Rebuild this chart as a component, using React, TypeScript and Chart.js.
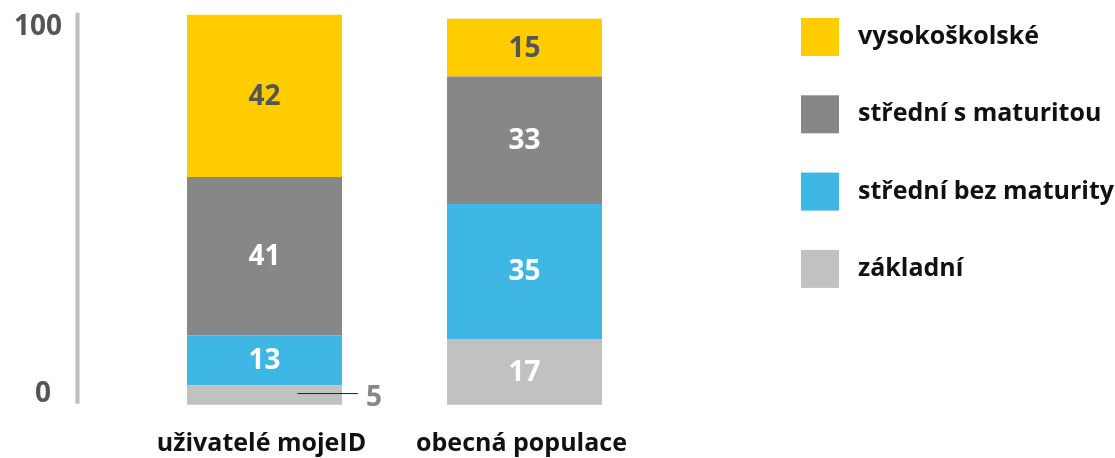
import React, { useEffect, useRef } from "react";
import { Chart, registerables } from "chart.js";

Chart.register(...registerables);

// ---- data ----
const categories = ["uživatelé mojeID", "obecná populace"];
const seriesNames = ["základní", "střední bez maturity", "střední s maturitou", "vysokoškolské"];
const zakladni = [5, 17];
const stredniBezMaturity = [13, 35];
const stredniSMaturitou = [41, 33];
const vysokoskolske = [42, 15];
const yTickValues = [0, 100];

// ---- styles ----
const seriesColors = ["#C1C1C1", "#3EB7E4", "#878787", "#FFCC00"];
const valueLabelColors = ["#FFFFFF", "#FFFFFF", "#FFFFFF", "#555555"];
const FONT = '"Open Sans", "Noto Sans", sans-serif';

const overlayPlugin = {
  id: "overlay",
  afterDatasetsDraw(chart: any) {
    const { ctx, chartArea } = chart;
    const yScale = chart.scales.y;
    const xScale = chart.scales.x;
    ctx.save();

    // vertical axis line
    const axisX = 77.5;
    ctx.strokeStyle = "#BEBEBE";
    ctx.lineWidth = 4;
    ctx.beginPath();
    ctx.moveTo(axisX, chartArea.top - 6);
    ctx.lineTo(axisX, chartArea.bottom - 1);
    ctx.stroke();

    // axis tick labels
    ctx.fillStyle = "#555555";
    ctx.font = `bold 28px ${FONT}`;
    ctx.textAlign = "center";
    yTickValues.forEach((v) => {
      const py = yScale.getPixelForValue(v);
      ctx.textBaseline = v === 0 ? "alphabetic" : "top";
      ctx.fillText(String(v), v === 0 ? 43 : 38, v === 0 ? py - 3 : py - 6);
    });

    // category labels
    ctx.fillStyle = "#111111";
    ctx.font = `bold 25px ${FONT}`;
    ctx.textAlign = "center";
    ctx.textBaseline = "alphabetic";
    categories.forEach((c, i) => {
      ctx.fillText(c, xScale.getPixelForValue(i) - 3, chartArea.bottom + 46);
    });

    // value labels
    ctx.font = `bold 28px ${FONT}`;
    chart.data.datasets.forEach((ds: any, di: number) => {
      const meta = chart.getDatasetMeta(di);
      meta.data.forEach((bar: any, i: number) => {
        const v = ds.data[i];
        const top = bar.y;
        const base = bar.base;
        const cy = (top + base) / 2;
        const h = base - top;
        if (h < 30) {
          // small segment: leader line + label outside
          const right = bar.x + bar.width / 2;
          ctx.strokeStyle = "#222222";
          ctx.lineWidth = 1;
          ctx.beginPath();
          ctx.moveTo(bar.x + 33, cy - 1.5);
          ctx.lineTo(right + 16, cy - 1.5);
          ctx.stroke();
          ctx.fillStyle = "#888888";
          ctx.textAlign = "left";
          ctx.textBaseline = "middle";
          ctx.fillText(String(v), right + 24, cy + 3);
        } else {
          ctx.fillStyle = valueLabelColors[di];
          ctx.textAlign = "center";
          ctx.textBaseline = "middle";
          ctx.fillText(String(v), bar.x, cy + 1);
        }
      });
    });

    // legend (top-most series first)
    const boxX = 801;
    const boxSize = 38;
    const startY = 18;
    const step = 77.3;
    ctx.font = `bold 25px ${FONT}`;
    ctx.textAlign = "left";
    ctx.textBaseline = "middle";
    for (let k = 0; k < seriesNames.length; k++) {
      const di = seriesNames.length - 1 - k;
      const y = startY + k * step;
      ctx.fillStyle = seriesColors[di];
      ctx.fillRect(boxX, y, boxSize, boxSize);
      ctx.fillStyle = "#111111";
      ctx.fillText(seriesNames[di], boxX + 57, y + boxSize / 2);
    }
    ctx.restore();
  },
};

export default function App() {
  const canvasRef = useRef<HTMLCanvasElement | null>(null);

  useEffect(() => {
    document.body.style.margin = "0";
    const canvas = canvasRef.current!;
    const seriesData = [zakladni, stredniBezMaturity, stredniSMaturitou, vysokoskolske];
    const chart = new Chart(canvas, {
      type: "bar",
      data: {
        labels: categories,
        datasets: seriesNames.map((name, i) => ({
          label: name,
          data: seriesData[i],
          backgroundColor: seriesColors[i],
          borderWidth: 0,
          categoryPercentage: 1,
          barPercentage: 155 / 260,
          clip: false as any,
        })),
      },
      options: {
        responsive: false,
        animation: false,
        events: [],
        layout: { padding: { left: 134.5, right: 460.5, top: 18.7, bottom: 53.3 } },
        plugins: {
          legend: { display: false },
          tooltip: { enabled: false },
        },
        scales: {
          x: {
            stacked: true,
            display: false,
          },
          y: {
            stacked: true,
            display: false,
            min: 0,
            max: 100,
          },
        },
      },
      plugins: [overlayPlugin],
    });
    return () => chart.destroy();
  }, []);

  return <canvas ref={canvasRef} width={1115} height={458} style={{ display: "block" }} />;
}
